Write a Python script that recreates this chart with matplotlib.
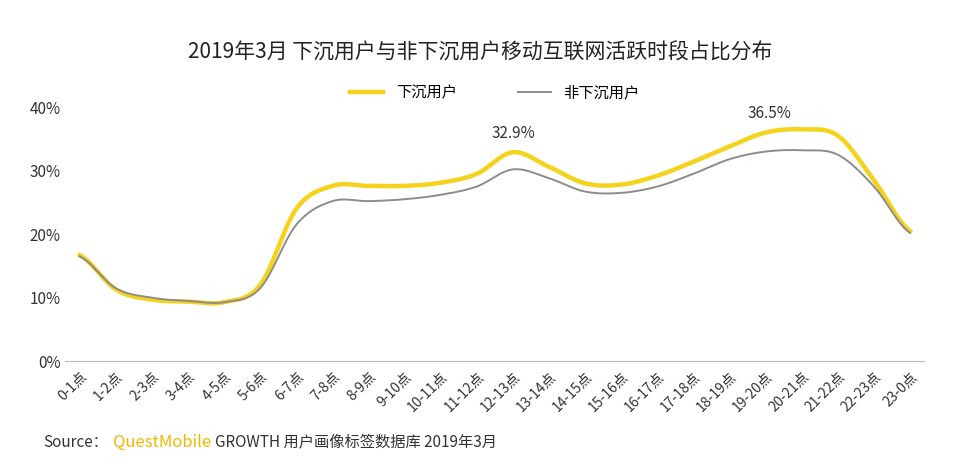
import numpy as np
import matplotlib
matplotlib.use('Agg')
import matplotlib.pyplot as plt

plt.rcParams['font.family'] = ['Noto Sans CJK SC', 'DejaVu Sans']

hours = ['0-1点', '1-2点', '2-3点', '3-4点', '4-5点', '5-6点', '6-7点', '7-8点', '8-9点',
         '9-10点', '10-11点', '11-12点', '12-13点', '13-14点', '14-15点', '15-16点',
         '16-17点', '17-18点', '18-19点', '19-20点', '20-21点', '21-22点', '22-23点', '23-0点']
xiachen = [16.7, 11.3, 9.7, 9.4, 9.3, 12.0, 24.0, 27.6, 27.6, 27.6, 28.1, 29.5, 32.9,
           30.6, 28.0, 27.8, 29.2, 31.4, 33.8, 36.0, 36.5, 35.5, 28.5, 20.5]
fei_xiachen = [16.5, 11.5, 10.0, 9.5, 9.3, 11.5, 21.5, 25.2, 25.2, 25.5, 26.2, 27.5, 30.2,
               28.8, 26.7, 26.5, 27.5, 29.5, 31.8, 33.0, 33.2, 32.5, 27.5, 20.2]


def smooth(y, n=12):
    # Catmull-Rom curve through the data points, for drawing only
    y = np.asarray(y, float)
    p = np.concatenate([[y[0]], y, [y[-1]]])
    xs, ys = [], []
    for i in range(len(y) - 1):
        t = np.linspace(0, 1, n, endpoint=False)
        p0, p1, p2, p3 = p[i], p[i + 1], p[i + 2], p[i + 3]
        v = 0.5 * (2 * p1 + (-p0 + p2) * t + (2 * p0 - 5 * p1 + 4 * p2 - p3) * t ** 2
                   + (-p0 + 3 * p1 - 3 * p2 + p3) * t ** 3)
        xs.extend(i + t)
        ys.extend(v)
    xs.append(len(y) - 1)
    ys.append(y[-1])
    return np.array(xs), np.array(ys)


fig = plt.figure(figsize=(9.6, 4.68), dpi=100)
ax = fig.add_axes([0.068, 0.228, 0.895, 0.55])

x1, y1 = smooth(fei_xiachen)
x2, y2 = smooth(xiachen)
ax.plot(x2, y2, color='#F5D21B', lw=3.2, label='下沉用户', zorder=3)
ax.plot(x1, y1, color='#8C8C8C', lw=1.4, label='非下沉用户', zorder=4)

ax.set_xlim(-0.4, 23.4)
ax.set_ylim(0, 40.5)
ax.set_yticks([0, 10, 20, 30, 40])
ax.set_yticklabels(['0%', '10%', '20%', '30%', '40%'], fontsize=11, color='#333333')
ax.set_xticks(range(len(hours)))
ax.set_xticklabels(hours, rotation=45, ha='right', rotation_mode='anchor', fontsize=10, color='#333333')
ax.tick_params(length=0)
ax.tick_params(axis='x', pad=6)
for s in ['top', 'right', 'left']:
    ax.spines[s].set_visible(False)
ax.spines['bottom'].set_color('#BBBBBB')

ax.annotate('32.9%', (12, 32.9), xytext=(0, 10), textcoords='offset points', ha='center', fontsize=11, color='#333333')
ax.annotate('36.5%', (19.1, 36.5), xytext=(0, 8), textcoords='offset points', ha='center', fontsize=11, color='#333333')

fig.text(0.5, 0.875, '2019年3月 下沉用户与非下沉用户移动互联网活跃时段占比分布', ha='center', fontsize=15, color='#222222')
ax.legend(loc='upper center', bbox_to_anchor=(0.5, 1.13), ncol=2, frameon=False, fontsize=11,
          handlelength=2.2, columnspacing=4)

fig.text(0.045, 0.045, 'Source：', fontsize=11, color='#333333')
fig.text(0.118, 0.045, 'QuestMobile', fontsize=12, color='#F2B800')
fig.text(0.224, 0.045, 'GROWTH 用户画像标签数据库 2019年3月', fontsize=11, color='#333333')

fig.savefig('out.png', dpi=100)
